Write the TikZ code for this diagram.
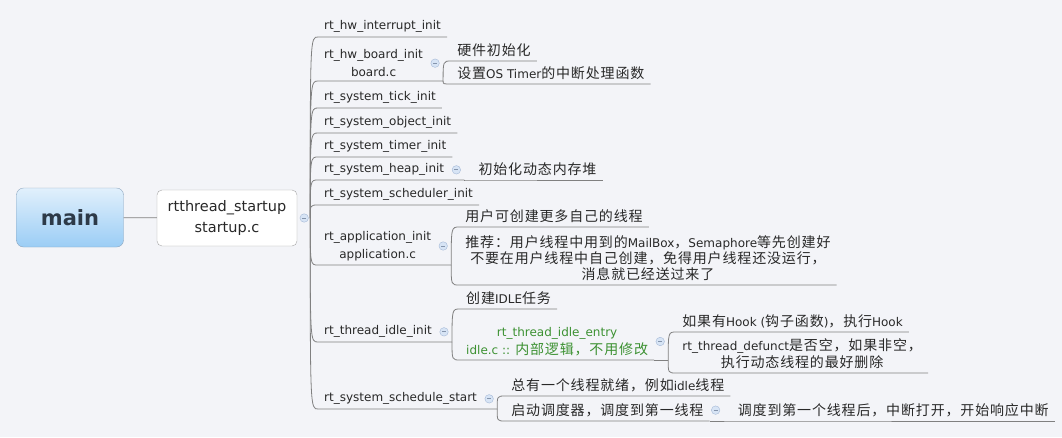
\documentclass[tikz,border=0pt]{standalone}
\usepackage{fontspec}
\setmainfont{DejaVu Sans}
\newfontfamily\zhfont[LetterSpace=6]{Noto Sans CJK SC}
\usetikzlibrary{calc}
\definecolor{paper}{RGB}{243, 244, 248}
\definecolor{ink}{RGB}{40, 40, 40}
\definecolor{twig}{RGB}{128, 128, 128}
\definecolor{mainedge}{RGB}{140, 165, 190}
\definecolor{maintop}{RGB}{225, 240, 252}
\definecolor{mainbot}{RGB}{155, 205, 245}
\definecolor{maintext}{RGB}{45, 58, 72}
\definecolor{foldfill}{RGB}{215, 228, 245}
\definecolor{foldedge}{RGB}{165, 185, 215}
\definecolor{idlegreen}{RGB}{60, 145, 50}
\newcommand{\zh}[1]{{\zhfont\fontsize{14}{17}\selectfont #1}}

\tikzset{
    topic/.style={anchor=south west, inner xsep=6pt, inner ysep=4pt, text=ink,
        font=\fontsize{12}{18}\selectfont, align=center},
    branch/.style={draw=twig, line width=0.8pt},
    fold/.style={circle, draw=foldedge, fill=foldfill, minimum size=8.5pt, inner sep=0pt,
        path picture={\draw[foldedge!80!black, line width=0.7pt]
            ([xshift=-2pt]path picture bounding box.center) --
            ([xshift=2pt]path picture bounding box.center);}}
}

\begin{document}
\begin{tikzpicture}[x=1pt, y=-1pt]
    \useasboundingbox (0,0) rectangle (1062,437);
    \fill[paper] (0,0) rectangle (1062,437);

    % Central topic
    \node[draw=mainedge, rounded corners=7pt, top color=maintop, bottom color=mainbot,
        minimum width=107pt, minimum height=59pt, text=maintext,
        font=\fontsize{21}{24}\selectfont\bfseries] (main) at (70,217.5) {main};
    \node[draw=twig!70, rounded corners=5pt, fill=white, minimum width=140pt,
        minimum height=56pt, text=ink, align=center,
        font=\fontsize{14.5}{21}\selectfont] (startup) at (227,218)
        {rtthread\_startup\\startup.c};
    \draw[branch] (main) -- (startup);
    \node[fold] (startupfold) at ([xshift=7pt]startup.east) {};
    \coordinate (spine) at ([xshift=13pt]startup.east);

    % First level topics
    \foreach \nm/\yy/\txt in {hwint/37/rt\_hw\_interrupt\_init, tick/108/rt\_system\_tick\_init,
        object/133/rt\_system\_object\_init, timer/157/rt\_system\_timer\_init,
        sched/205/rt\_system\_scheduler\_init} {
        \node[topic] (\nm) at (318,\yy) {\txt};
        \draw[branch] (spine) .. controls (spine |- \nm.south west) .. (\nm.south west)
            -- (\nm.south east);
    }
    \foreach \nm/\yy/\txt in {board/81/rt\_hw\_board\_init\\board.c,
        heap/180/rt\_system\_heap\_init, app/265/rt\_application\_init\\application.c,
        idle/342/rt\_thread\_idle\_init, start/409/rt\_system\_schedule\_start} {
        \node[topic] (\nm) at (318,\yy) {\txt};
        \node[fold] (\nm fold) at ([xshift=6pt]\nm.east) {};
        \coordinate (\nm end) at ([xshift=14pt]\nm.south east);
        \draw[branch] (spine) .. controls (spine |- \nm.south west) .. (\nm.south west)
            -- (\nm end);
    }

    % board.c
    \node[topic] (hwinit) at ($(boardend)+(8,-20)$) {\zh{硬件初始化}};
    \node[topic] (ostimer) at ($(boardend)+(8,3)$) {\zh{设置}OS Timer\zh{的中断处理函数}};
    % heap
    \node[topic] (heapinit) at ($(heapend)+(8,0)$) {\zh{初始化动态内存堆}};
    % application.c
    \node[topic] (morethr) at ($(append)+(8,-38)$) {\zh{用户可创建更多自己的线程}};
    \node[topic, font=\fontsize{12}{16}\selectfont] (advice) at ($(append)+(8,20)$)
        {\zh{推荐：用户线程中用到的}MailBox\zh{，}Semaphore\zh{等先创建好}\\
         \zh{不要在用户线程中自己创建，免得用户线程还没运行，}\\
         \zh{消息就已经送过来了}};
    % idle.c
    \node[topic] (mkidle) at ($(idleend)+(8,-33)$) {\zh{创建}IDLE\zh{任务}};
    \node[topic, text=idlegreen] (entry) at ($(idleend)+(8,18)$)
        {rt\_thread\_idle\_entry\\idle.c :: \zh{内部逻辑，不用修改}};
    \node[fold] (entryfold) at ([xshift=6pt]entry.east) {};
    \coordinate (entryend) at ([xshift=14pt]entry.south east);
    \node[topic] (hook) at ($(entryend)+(8,-28)$)
        {\zh{如果有}Hook (\zh{钩子函数})\zh{，执行}Hook};
    \node[topic, font=\fontsize{12}{17}\selectfont] (defunct) at ($(entryend)+(8,13)$)
        {rt\_thread\_defunct\zh{是否空，如果非空，}\\\zh{执行动态线程的最好删除}};
    % scheduler start
    \node[topic] (ready) at ($(startend)+(8,-13)$) {\zh{总有一个线程就绪，例如}idle\zh{线程}};
    \node[topic] (launch) at ($(startend)+(8,12)$) {\zh{启动调度器，调度到第一线程}};
    \node[fold] (launchfold) at ([xshift=6pt]launch.east) {};
    \coordinate (launchend) at ([xshift=14pt]launch.south east);
    \node[topic] (irqon) at ($(launchend)+(8,0)$)
        {\zh{调度到第一个线程后，中断打开，开始响应中断}};

    % Second level branches
    \foreach \from/\to in {boardend/hwinit, boardend/ostimer, heapend/heapinit,
        append/morethr, append/advice, idleend/mkidle, idleend/entry,
        entryend/hook, entryend/defunct, startend/ready, startend/launch,
        launchend/irqon} {
        \draw[branch] (\from) .. controls (\from |- \to.south west) .. (\to.south west)
            -- (\to.south east);
    }
    \draw[branch] (entry.south east) -- (entryend);
    \draw[branch] (launch.south east) -- (launchend);
\end{tikzpicture}
\end{document}
